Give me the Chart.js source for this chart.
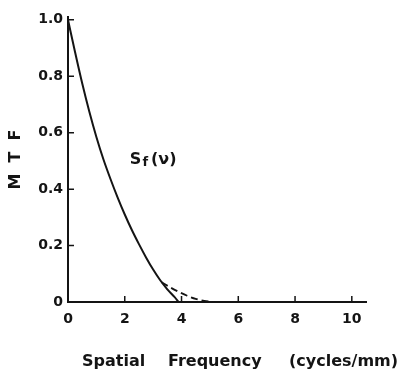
<!DOCTYPE html>
<html>
<head>
<meta charset="utf-8">
<script src="https://cdn.jsdelivr.net/npm/chart.js@4.4.1/dist/chart.umd.min.js"></script>
<style>
  html, body { margin: 0; padding: 0; background: #fff; }
  canvas { display: block; }
</style>
</head>
<body>
<canvas id="mtfChart" width="402" height="378"></canvas>
<script>
// MTF curve
const solidFreq = [0, 0.25, 0.5, 0.75, 1.0, 1.25, 1.5, 1.75, 2.0, 2.25, 2.5, 2.75, 3.0, 3.25, 3.5, 3.75, 3.9];
const solidMtf  = [1.0, 0.885, 0.775, 0.675, 0.585, 0.505, 0.435, 0.37, 0.31, 0.255, 0.205, 0.158, 0.115, 0.077, 0.045, 0.018, 0];

// dashed tail branching off near 3.3 cycles/mm
const dashFreq = [3.3, 3.6, 3.9, 4.2, 4.5, 4.8, 5.15];
const dashMtf  = [0.07, 0.052, 0.036, 0.022, 0.011, 0.004, 0];

const xTicks = [0, 2, 4, 6, 8, 10];
const yTicks = [0, 0.2, 0.4, 0.6, 0.8, 1.0];

const INK = '#141414';
const FONT = 'DejaVu Sans';

function toPoints(xs, ys) {
  return xs.map((x, i) => ({ x: x, y: ys[i] }));
}

// Inward tick marks, axis title words and the curve label
const figureExtras = {
  id: 'figureExtras',
  afterDraw(chart) {
    const ctx = chart.ctx;
    const xs = chart.scales.x;
    const ys = chart.scales.y;
    const x0 = xs.getPixelForValue(0);
    const y0 = ys.getPixelForValue(0);
    ctx.save();
    ctx.strokeStyle = INK;
    ctx.lineWidth = 1.5;
    ctx.beginPath();
    yTicks.filter(v => v > 0).forEach(v => {
      const py = ys.getPixelForValue(v);
      ctx.moveTo(x0, py);
      ctx.lineTo(x0 + 6, py);
    });
    xTicks.filter(v => v > 0).forEach(v => {
      const px = xs.getPixelForValue(v);
      ctx.moveTo(px, y0);
      ctx.lineTo(px, y0 - 6);
    });
    ctx.stroke();

    // x axis title, spaced out like the original lettering
    ctx.fillStyle = INK;
    ctx.textBaseline = 'alphabetic';
    ctx.textAlign = 'left';
    ctx.font = `bold 16px "${FONT}"`;
    ctx.fillText('Spatial', 82, 366);
    ctx.fillText('Frequency', 168, 366);
    ctx.fillText('(cycles/mm)', 289, 366);

    // curve label S_f(ν)
    const lx = xs.getPixelForValue(2.18);
    const ly = ys.getPixelForValue(0.49);
    ctx.font = `bold 16px "${FONT}"`;
    ctx.fillText('S', lx, ly);
    let w = ctx.measureText('S').width;
    ctx.font = `bold 13px "${FONT}"`;
    ctx.fillText('f', lx + w + 1, ly + 2);
    w += ctx.measureText('f').width + 4;
    ctx.font = `bold 16px "${FONT}"`;
    ctx.fillText('(ν)', lx + w, ly);
    ctx.restore();
  }
};

new Chart(document.getElementById('mtfChart').getContext('2d'), {
  type: 'scatter',
  data: {
    datasets: [
      {
        data: toPoints(solidFreq, solidMtf),
        showLine: true,
        borderColor: INK,
        borderWidth: 2,
        pointRadius: 0,
        cubicInterpolationMode: 'monotone'
      },
      {
        data: toPoints(dashFreq, dashMtf),
        showLine: true,
        borderColor: INK,
        borderWidth: 1.8,
        borderDash: [7, 4],
        pointRadius: 0,
        cubicInterpolationMode: 'monotone'
      }
    ]
  },
  options: {
    responsive: false,
    animation: false,
    layout: { padding: { top: 17, right: 36, left: 0, bottom: 0 } },
    plugins: { legend: { display: false }, tooltip: { enabled: false } },
    scales: {
      x: {
        type: 'linear',
        min: 0,
        max: 10.5,
        afterBuildTicks: s => { s.ticks = xTicks.map(v => ({ value: v })); },
        afterFit: s => { s.height = 76; },
        grid: { display: false, drawTicks: false },
        border: { display: true, color: INK, width: 2 },
        ticks: {
          padding: 9,
          color: INK,
          font: { family: FONT, weight: 'bold', size: 14 },
          callback: v => String(v)
        }
      },
      y: {
        type: 'linear',
        min: 0,
        max: 1.01,
        afterBuildTicks: s => { s.ticks = yTicks.map(v => ({ value: v })); },
        afterFit: s => { s.width = 68; },
        grid: { display: false, drawTicks: false },
        border: { display: true, color: INK, width: 2 },
        ticks: {
          padding: 5,
          color: INK,
          font: { family: FONT, weight: 'bold', size: 14 },
          callback: v => (v === 0 ? '0' : v.toFixed(1))
        },
        title: {
          display: true,
          text: 'M  T  F',
          color: INK,
          font: { family: FONT, weight: 'bold', size: 16 },
          padding: { top: 6, bottom: 0 }
        }
      }
    }
  },
  plugins: [figureExtras]
});
</script>
</body>
</html>
